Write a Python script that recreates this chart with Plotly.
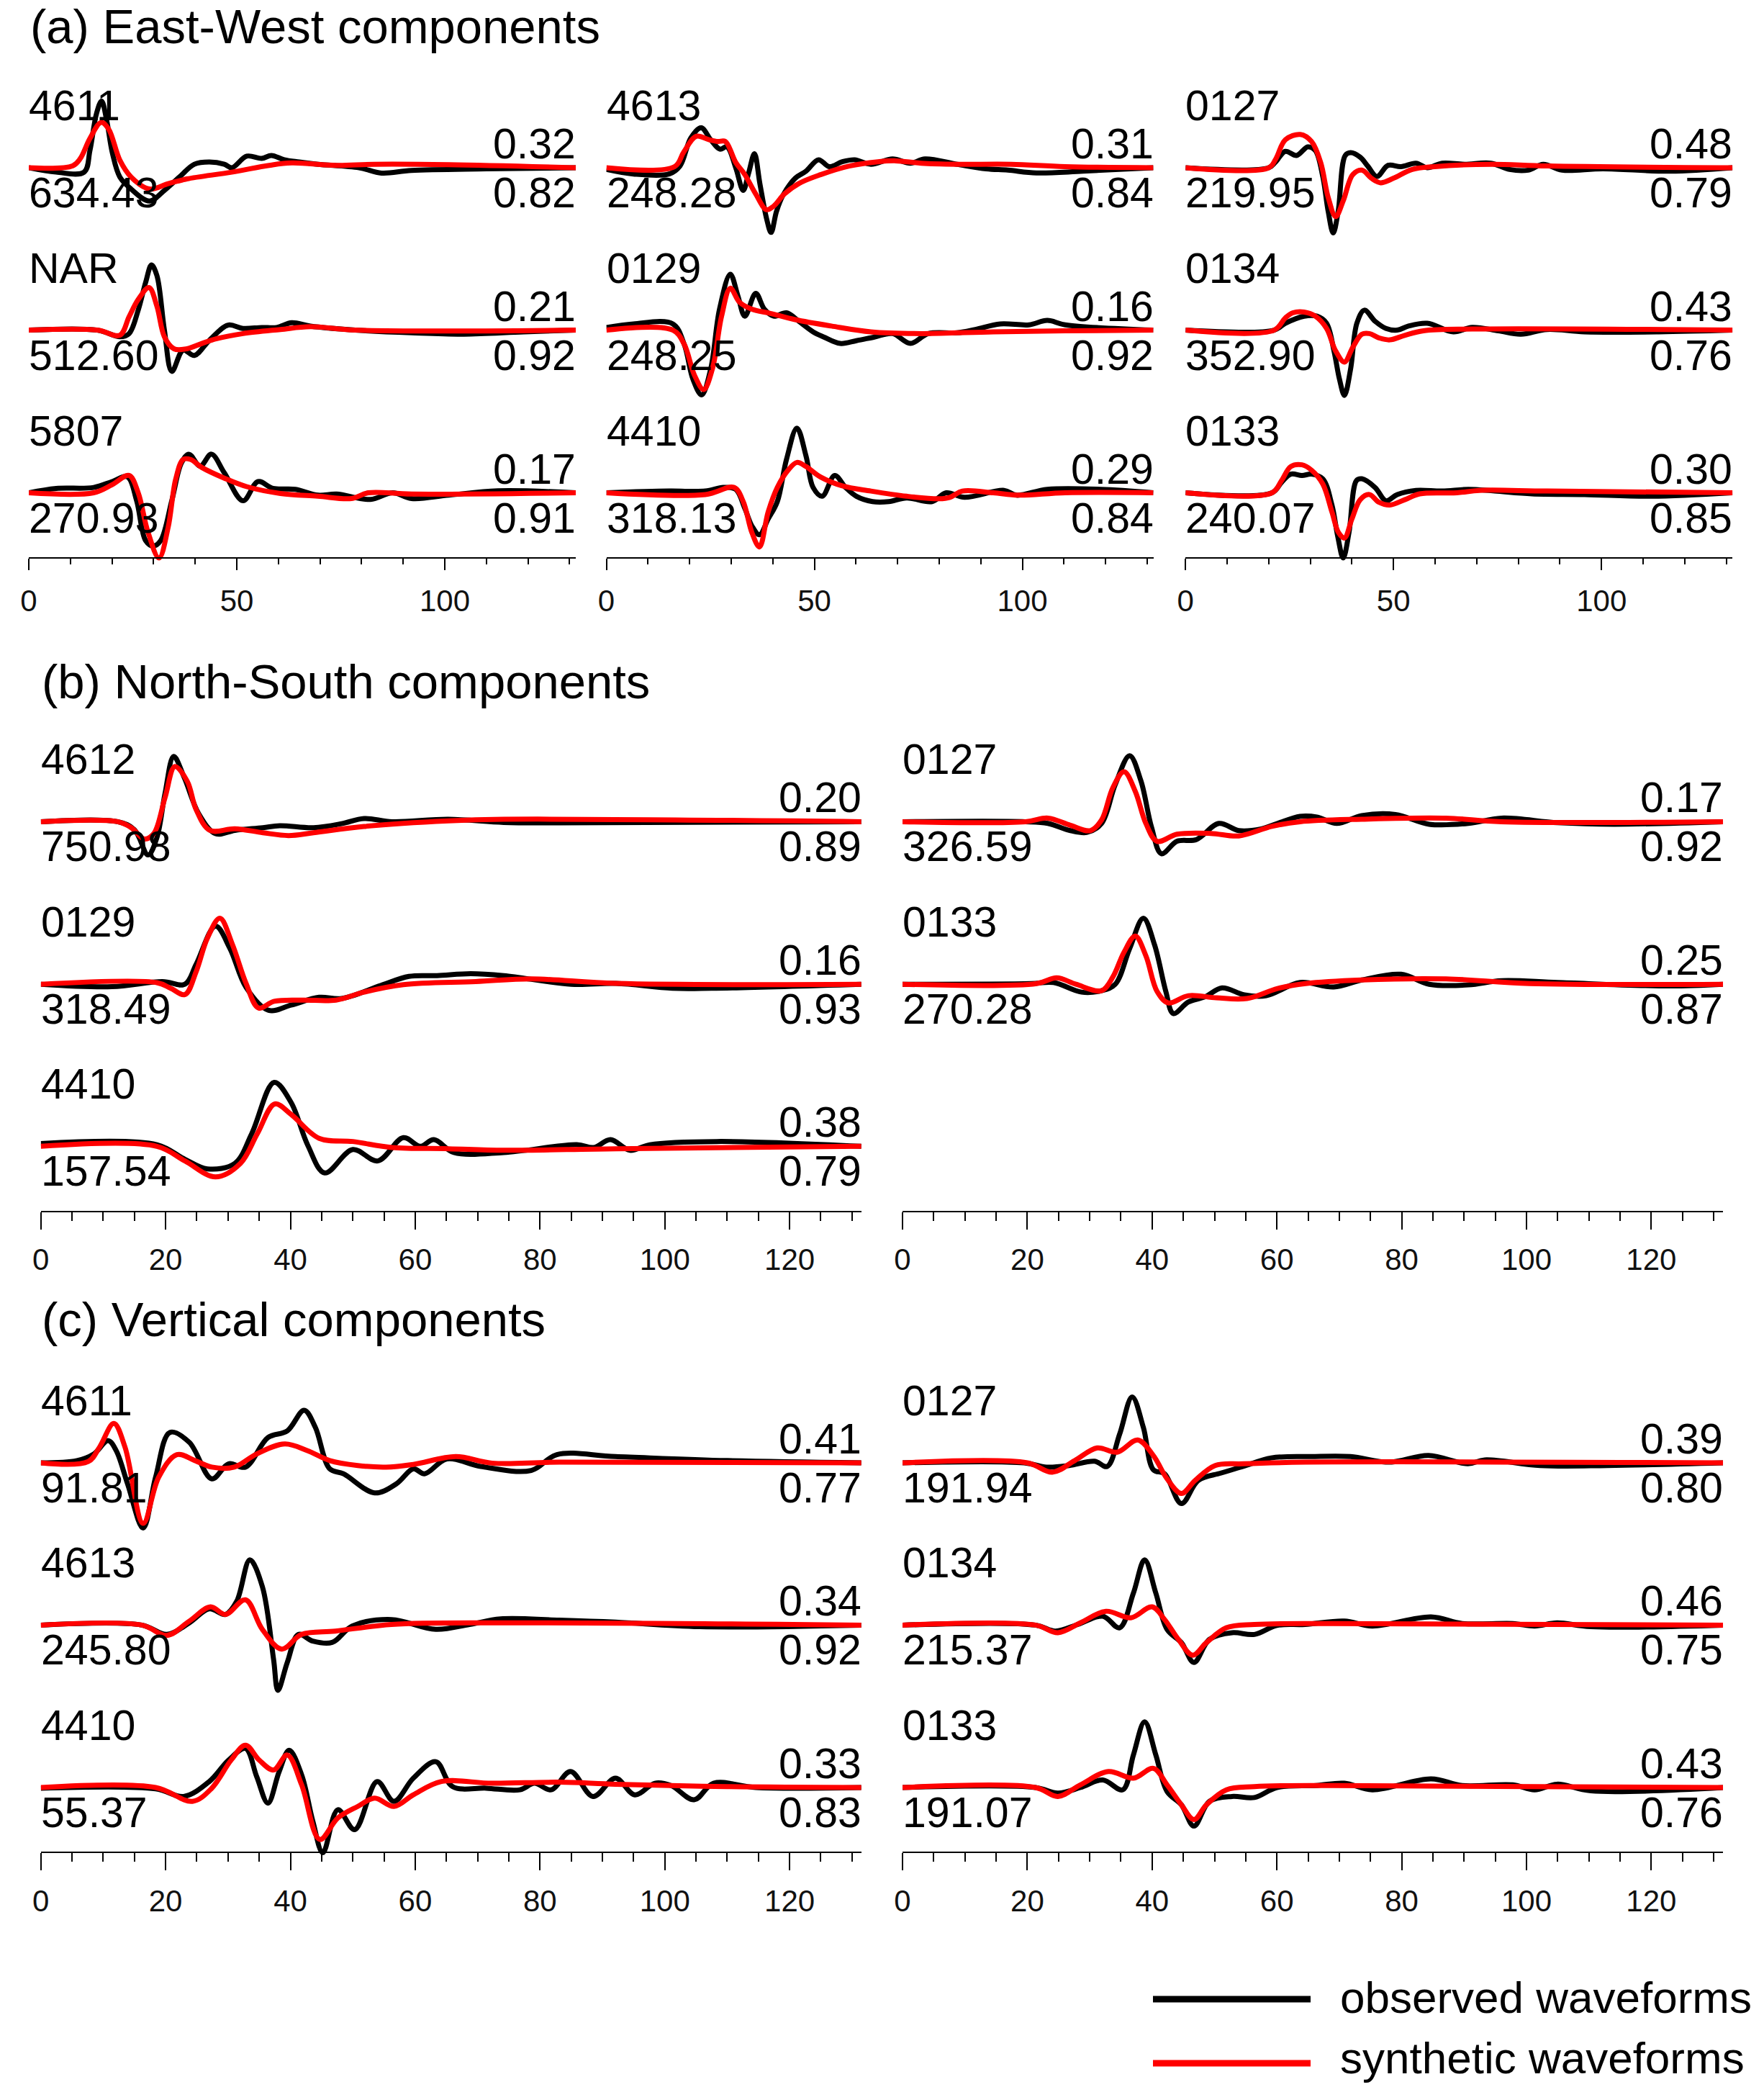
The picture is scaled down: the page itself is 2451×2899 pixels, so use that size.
import plotly.graph_objects as go

W, H = 2451, 2899
AMP = H / 1568.0          # amplitudes were read in units of the reduced (1568 px high) picture
FONT = "Liberation Sans, Arial, Helvetica, sans-serif"
T_MAX = 131.5

# ---------------------------------------------------------------- (a) East-West
EW_STATIONS = ["4611", "NAR", "5807", "4613", "0129", "4410", "0127", "0134", "0133"]
EW_PEAKS = [634.43, 512.60, 270.93, 248.28, 248.25, 318.13, 219.95, 352.90, 240.07]
EW_UPPER = [0.32, 0.21, 0.17, 0.31, 0.16, 0.29, 0.48, 0.43, 0.30]
EW_LOWER = [0.82, 0.92, 0.91, 0.84, 0.92, 0.84, 0.79, 0.76, 0.85]

EW_4611_OBS_T = [0, 6.6, 13.3, 14.7, 16.3, 17.5, 18.7, 20.1, 21.9, 24.6, 29.0, 32.6, 36.2, 39.8, 43.4, 47.0, 48.8, 52.4, 56.0, 58.3, 61.4, 65.0, 69.5, 79.4, 84.8, 92.0, 110.0, 131.5]
EW_4611_OBS_A = [0, -3.3, -3.3, 13, 41, 50, 36, 11, -7, -16, -25, -17, -7, 2.6, 4.3, 2.6, 0, 8.7, 7, 9.2, 6, 4.3, 2.6, 0, -4, -2, -0.8, 0]
EW_4611_SYN_T = [0, 10.6, 12.4, 14.7, 17.4, 19.2, 21.9, 24.6, 29.0, 33.5, 38.0, 48.8, 57.8, 63.2, 74.0, 83.0, 101.0, 131.5]
EW_4611_SYN_A = [0, 1.5, 7, 22, 34, 29, 5.6, -7, -16, -12, -8.4, -3.3, 1.8, 3.6, 1.8, 2.6, 2.3, 0]

EW_NAR_OBS_T = [0, 16.5, 21.9, 24.1, 26.3, 28.1, 29.5, 30.8, 32.6, 34.4, 37.1, 39.8, 43.4, 47.9, 51.5, 56.0, 59.6, 63.2, 67.7, 78.5, 92.0, 104.6, 119.0, 131.5]
EW_NAR_OBS_A = [0, 0, -5, -2.6, 15, 36, 49, 41, 0, -31, -15, -19, -7.7, 3.8, 1.3, 2, 2, 5.6, 3, 0, -2, -3, -1.3, 0]
EW_NAR_SYN_T = [0, 16.5, 21.9, 24.1, 26.3, 28.9, 30.8, 32.6, 34.9, 38.0, 41.6, 45.2, 51.5, 60.5, 67.7, 78.5, 131.5]
EW_NAR_SYN_A = [0, 0, -3.8, 10, 23, 32, 18, -5, -14, -14, -10, -6.4, -2.6, 0.5, 2.6, 0, 0]

EW_5807_OBS_T = [0, 6.6, 15.6, 20.0, 23.7, 25.9, 28.1, 29.9, 31.7, 34.4, 36.7, 38.5, 41.2, 43.9, 47.0, 51.5, 55.1, 58.7, 64.1, 69.5, 74.0, 82.1, 87.5, 92.0, 101.0, 112.7, 131.5]
EW_5807_OBS_A = [0, 3.3, 4, 8.4, 12, -5.6, -36, -40, -36, -5.6, 22.5, 29, 20, 29, 15, -6, 8.4, 3.3, 2.6, -1.8, -1, -5, 0, -4.3, -1.8, 1.5, 0]
EW_5807_SYN_T = [0, 15.6, 20.0, 24.1, 26.3, 28.6, 31.3, 33.5, 35.3, 37.1, 38.9, 41.6, 47.0, 52.4, 60.5, 69.5, 77.6, 81.6, 92.0, 131.5]
EW_5807_SYN_A = [0, 0, 6, 13, 0, -29, -49, -26, 10, 25, 25, 19, 11, 4.6, -0.5, -2.6, -4.3, 0, -1, 0]

EW_4613_OBS_T = [0, 6.5, 15.1, 17.7, 20.3, 22.8, 25.1, 27.3, 29.0, 31.1, 32.9, 34.2, 35.6, 36.9, 38.5, 39.6, 40.9, 42.4, 45.4, 48.0, 51.0, 53.6, 56.7, 59.7, 63.6, 68.8, 73.1, 76.6, 84.3, 91.3, 96.5, 103.4, 114.6, 131.5]
EW_4613_OBS_A = [-1.3, -4.7, -4.7, 1.3, 22.3, 30, 21, 14, 15.7, 0, -17, -4, 10.5, -11.8, -38, -48.6, -32.8, -21, -7.9, -2.6, 6, 0.8, 4.5, 6, 2.6, 6.6, 3.4, 6.6, 2.6, -0.8, -1.8, -3.9, -2.6, 0]
EW_4613_SYN_T = [0, 16.4, 18.6, 21.6, 24.7, 26.8, 28.6, 31.1, 33.3, 35.9, 38.5, 40.2, 42.8, 46.3, 51.5, 58.4, 65.3, 69.6, 75.7, 84.3, 97.3, 110.3, 131.5]
EW_4613_SYN_A = [0, 0.8, 11.8, 23.6, 21, 19.7, 19.7, 4, -5.2, -19.7, -31.5, -28.9, -19.7, -11.8, -5.2, 1.3, 4.5, 5.2, 3.4, 2.6, 2.6, 0.8, 0]

EW_0129_OBS_T = [0, 6.5, 16.0, 18.7, 20.8, 22.9, 25.1, 27.2, 29.8, 31.6, 33.3, 35.9, 38.0, 40.2, 43.3, 46.3, 49.7, 52.3, 56.2, 60.1, 64.4, 68.8, 73.1, 77.4, 84.3, 88.7, 94.7, 101.6, 106.0, 110.3, 131.5]
EW_0129_OBS_A = [2, 4.7, 4.7, -10.5, -36.7, -48.6, -28.9, 15.7, 42, 26, 10.5, 27.6, 15.7, 10.5, 13, 6.6, -1.3, -5.2, -10, -7.9, -5.2, -2.6, -10, -2.6, -2, 0.5, 4.7, 4, 7.3, 4, 0]
EW_0129_SYN_T = [0, 16.0, 18.7, 21.2, 23.4, 25.5, 27.7, 29.8, 32.0, 35.0, 39.4, 45.4, 54.1, 63.6, 75.7, 93.0, 110.3, 131.5]
EW_0129_SYN_A = [0, 0, -10.5, -34, -44.6, -29, 10.5, 31.5, 21, 15.7, 12.6, 7.9, 3.1, -1.3, -2.6, -1.3, -0.5, 0]

EW_4410_OBS_T = [0, 15.1, 23.8, 28.1, 31.1, 33.3, 35.0, 36.8, 38.9, 41.1, 43.3, 45.8, 48.0, 49.7, 51.9, 54.9, 57.5, 60.1, 64.0, 67.9, 72.2, 78.3, 81.7, 86.1, 95.6, 98.6, 106.0, 118.9, 131.5]
EW_4410_OBS_A = [0, 1.3, 1.3, 4, 2.6, -11.8, -25, -31.5, -19.7, -6.6, 25, 48.6, 27.6, 4, -2.6, 13, 4, -2.6, -6.6, -6.6, -3.9, -6.6, 0, -3.4, 1.8, -1.8, 2.6, 2.6, 0]
EW_4410_SYN_T = [0, 23.8, 30.7, 32.9, 35.0, 36.8, 38.9, 41.1, 43.7, 45.8, 48.0, 51.5, 56.7, 63.6, 72.2, 80.0, 82.6, 85.6, 93.0, 99.1, 110.3, 131.5]
EW_4410_SYN_A = [0, -1.3, 4, -6.6, -30, -40.7, -14.4, 4, 17, 22.8, 19.7, 11.8, 5.2, 1.3, -2.6, -4.5, -3.4, 1.3, 0, -1.8, 0, 0]

EW_0127_OBS_T = [0, 20.0, 21.7, 24.0, 26.7, 29.4, 31.2, 33.0, 34.3, 35.5, 36.7, 38.4, 39.7, 42.0, 43.8, 46.0, 48.7, 51.8, 55.4, 58.1, 61.7, 67.1, 73.4, 77.9, 82.4, 86.0, 90.5, 100.4, 116.5, 131.5]
EW_0127_OBS_A = [0, 0, 4.5, 12.3, 9.2, 15.7, 13, -6.6, -32.8, -49, -32.8, 9.2, 11.3, 7.9, 1.3, -6.6, 1.8, 0.8, 3.4, 0, 3.4, 2.6, 3.4, -1.3, -1.8, 2.6, -1.8, -0.8, -2.6, 0]
EW_0127_SYN_T = [0, 20.0, 21.7, 24.0, 27.6, 30.3, 32.5, 34.3, 36.1, 37.9, 40.2, 42.4, 44.7, 46.9, 50.0, 54.5, 59.9, 73.4, 86.9, 131.5]
EW_0127_SYN_A = [0, 0, 6.6, 21, 25, 19.7, 3.9, -22.3, -36.7, -25, -5.2, -1.8, -7.9, -11.3, -7.9, -1.3, 0.8, 2.6, 1.3, 0]

EW_0134_OBS_T = [0, 21.3, 24.0, 28.5, 31.6, 33.9, 35.7, 37.0, 38.2, 39.7, 41.2, 43.0, 45.6, 48.2, 50.9, 53.6, 58.1, 64.4, 68.9, 75.2, 80.6, 86.9, 95.9, 113.8, 131.5]
EW_0134_OBS_A = [0, 0, 5.2, 10.5, 10.5, 5.2, -15.7, -36.7, -49, -28.9, 5.2, 15, 6.6, 1.3, 0, 3.1, 5.2, -1.3, 2.1, -0.5, -3.1, 0.5, -1.3, -1.3, 0]
EW_0134_SYN_T = [0, 21.3, 24.0, 25.8, 28.5, 31.2, 33.9, 36.1, 38.2, 40.2, 42.4, 44.2, 46.5, 49.1, 52.7, 57.2, 68.9, 131.5]
EW_0134_SYN_A = [0, 0, 9.2, 13, 13.6, 10.5, 1.3, -15.7, -24, -13, -3.1, -2.6, -5.8, -7.3, -3.9, -0.5, 0.8, 0]

EW_0133_OBS_T = [0, 20.8, 23.1, 25.3, 28.0, 30.3, 33.0, 35.2, 36.6, 37.9, 39.3, 41.1, 42.4, 45.6, 48.2, 50.9, 55.4, 61.7, 68.0, 74.3, 83.3, 95.9, 112.0, 131.5]
EW_0133_OBS_A = [0, 0, 7.9, 14, 13, 14, 10.5, -9.2, -32.8, -49, -30, 9.2, 10.5, 3.9, -6, -1.3, 1.8, 1.3, 2.6, 1.3, -0.8, -1.3, -2.6, 0]
EW_0133_SYN_T = [0, 20.8, 23.1, 25.3, 28.0, 30.3, 33.0, 35.2, 36.8, 38.2, 40.0, 42.0, 44.2, 46.5, 49.1, 52.7, 56.3, 65.3, 70.7, 86.9, 131.5]
EW_0133_SYN_A = [0, 0, 9.2, 19.7, 21, 17, 6.6, -14.4, -30, -34, -19.7, -5.2, -1.3, -7.1, -9.2, -5.2, -0.8, 0, 1.8, 1.3, 0]

# ---------------------------------------------------------------- (b) North-South
NS_STATIONS = ["4612", "0129", "4410", "0127", "0133"]
NS_PEAKS = [750.98, 318.49, 157.54, 326.59, 270.28]
NS_UPPER = [0.20, 0.16, 0.38, 0.17, 0.25]
NS_LOWER = [0.89, 0.93, 0.79, 0.92, 0.87]

NS_4612_OBS_T = [0, 12.3, 15.0, 17.2, 18.6, 19.9, 21.3, 23.0, 25.3, 28.0, 31.1, 35.6, 38.3, 43.7, 48.2, 51.8, 56.3, 65.3, 74.2, 83.2, 131.5]
NS_4612_OBS_A = [0, 0, -6, -25, -12, 21, 49, 33, 6, -9, -6.5, -4.5, -3, -4.5, -1.5, 2.4, 0, 1.8, -0.6, -0.9, 0]
NS_4612_SYN_T = [0, 12.3, 14.5, 16.6, 18.1, 19.9, 21.5, 23.5, 24.9, 27.1, 31.1, 35.6, 39.7, 43.7, 51.8, 65.3, 74.2, 131.5]
NS_4612_SYN_A = [0, 0, -4.5, -13, -9, 18, 41.5, 30, 9, -6.5, -5.3, -8.3, -10.4, -8.3, -3.6, 0.6, 1.8, 0]

NS_0129_OBS_T = [0, 11.4, 19.5, 23.1, 24.9, 28.0, 30.3, 32.9, 36.5, 40.1, 44.6, 48.2, 54.5, 59.0, 63.5, 68.9, 74.2, 85.0, 92.2, 101.2, 107.5, 131.5]
NS_0129_OBS_A = [0, -1.8, 2, 0, 15, 43.6, 27, -2.4, -19.6, -15.7, -9.8, -10.7, -0.9, 5.9, 6.5, 8, 6.5, 0, 0.6, -3, -3, 0]
NS_0129_SYN_T = [0, 18.6, 20.8, 23.1, 24.9, 26.7, 28.7, 30.7, 32.9, 34.9, 37.4, 41.9, 47.3, 51.8, 58.1, 69.7, 78.7, 92.2, 131.5]
NS_0129_SYN_A = [0, 1.2, -3, -7.7, 9.5, 34.7, 49.6, 30, 0.6, -17.8, -12.8, -11.9, -11.9, -5.9, -0.3, 2, 4, 0.6, 0]

NS_4410_OBS_T = [0, 18.6, 23.1, 26.7, 31.1, 33.8, 37.4, 40.1, 42.8, 45.5, 50.0, 54.0, 58.1, 60.8, 63.0, 66.2, 74.2, 85.9, 88.6, 91.3, 94.4, 97.6, 108.3, 131.5]
NS_4410_OBS_A = [2, 1.2, -9.8, -17, -12.8, 9.5, 48, 33, 0.6, -20, -2.4, -11, 6.5, 0, 5, -4.7, -4.7, 1.2, -0.9, 5, -3, 1.2, 3.6, 0]
NS_4410_SYN_T = [0, 18.6, 23.1, 28.0, 32.0, 34.7, 37.5, 40.1, 44.6, 50.0, 56.3, 65.3, 74.2, 92.2, 131.5]
NS_4410_SYN_A = [0, 0, -11, -23, -12.8, 9.5, 31.8, 24, 6, 3.6, -0.9, -1.8, -3, -1.8, 0]

NS_0127_OBS_T = [0, 19.7, 23.3, 26.9, 29.6, 31.9, 34.1, 36.4, 38.2, 39.9, 41.5, 44.0, 47.1, 50.7, 53.9, 57.5, 60.1, 63.7, 66.4, 69.6, 73.6, 79.0, 84.4, 90.7, 96.0, 105.0, 114.0, 131.5]
NS_0127_OBS_A = [0, 0, -1.3, -6.7, -8, -1.3, 28, 49.6, 30.8, -4, -24, -14.7, -13.4, -1.3, -6.7, -5.4, -1.3, 4, 3.5, -1.3, 4.6, 5.4, -1.9, -1.3, 2.7, -0.8, -1.9, 0]
NS_0127_SYN_T = [0, 19.7, 23.3, 26.9, 30.1, 31.9, 33.7, 35.5, 37.3, 39.0, 40.8, 44.0, 49.4, 53.9, 59.2, 63.7, 73.6, 87.1, 96.0, 131.5]
NS_0127_SYN_A = [0, 0, 2.7, -2.7, -6.7, 1.3, 25.5, 37.5, 22.8, -1.3, -14.7, -9.4, -8.8, -10.7, -3.5, 0, 1.9, 2.7, 0, 0]

NS_0133_OBS_T = [0, 20.6, 24.2, 28.7, 31.9, 34.1, 36.4, 38.6, 40.4, 42.2, 43.4, 45.8, 48.5, 51.2, 54.8, 58.3, 63.7, 69.1, 73.6, 79.9, 84.4, 90.7, 96.0, 105.0, 123.0, 131.5]
NS_0133_OBS_A = [0, 0.5, 1.3, -5.9, -4.8, 0, 26.8, 49.6, 29.5, -5.4, -22, -13.4, -9.4, -2.7, -8, -8.6, 1.3, -2.1, 3.2, 7.5, 0, -0.5, 2.7, 1.3, -1.3, 0]
NS_0133_SYN_T = [0, 21.5, 24.7, 27.8, 31.9, 33.7, 35.5, 37.3, 39.0, 40.8, 42.6, 45.8, 50.3, 55.2, 60.1, 64.6, 73.6, 87.1, 100.5, 131.5]
NS_0133_SYN_A = [0, 0.5, 4.8, 0, -4.8, 5.4, 24.1, 36.2, 21.4, -5.4, -14, -8.6, -10.2, -10.7, -3.2, 0.5, 3.2, 4, 0.5, 0]

# ---------------------------------------------------------------- (c) Vertical
Z_STATIONS = ["4611", "4613", "4410", "0127", "0134", "0133"]
Z_PEAKS = [91.81, 245.80, 55.37, 191.94, 215.37, 191.07]
Z_UPPER = [0.41, 0.34, 0.33, 0.39, 0.46, 0.43]
Z_LOWER = [0.77, 0.92, 0.83, 0.80, 0.75, 0.76]

Z_4611_OBS_T = [0, 5.8, 8.5, 10.8, 12.1, 13.9, 16.4, 18.4, 20.7, 23.8, 27.4, 30.1, 32.8, 36.4, 39.5, 42.2, 44.0, 46.3, 48.5, 53.5, 57.0, 59.7, 61.5, 65.1, 70.5, 78.6, 82.7, 92.1, 110.0, 131.5]
Z_4611_OBS_A = [0, 1.7, 6.7, 16.7, 9, -15.7, -49, -10.7, 22.9, 15.4, -12, -0.7, -3.2, 19, 24, 39.5, 26.6, -4.5, -8.2, -22.6, -15.7, -4.5, -8.2, 3, -2.7, -5.7, 6.2, 4.7, 1.7, 0]
Z_4611_SYN_T = [0, 7.6, 9.4, 11.7, 13.5, 16.4, 18.9, 21.8, 24.7, 27.4, 31.0, 34.6, 39.1, 42.7, 46.3, 50.8, 55.3, 59.7, 66.5, 72.3, 83.1, 131.5]
Z_4611_SYN_A = [0, 1, 11.7, 29.6, 11.7, -45.5, -10.7, 6.2, 1.7, -3.2, -3.2, 6.7, 14.2, 9.2, 1.7, -2, -3.2, -1.2, 4.7, -0.2, 0.5, 0]

Z_4613_OBS_T = [0, 16.2, 20.2, 23.8, 27.0, 29.6, 31.4, 33.5, 35.5, 37.3, 38.0, 39.5, 41.3, 43.6, 46.7, 49.9, 56.2, 63.3, 68.7, 73.7, 83.1, 92.1, 105.6, 131.5]
Z_4613_OBS_A = [0, 0, -7, 1.7, 12.2, 8, 17.9, 49, 29, -25.6, -49, -28, -7, -12, -13, -0.7, 4.2, -3.2, 0.5, 4.7, 3.7, 2.2, -1.2, 0]
Z_4613_SYN_T = [0, 16.2, 20.2, 23.8, 27.2, 29.6, 32.8, 35.5, 38.6, 41.8, 47.2, 56.2, 74.1, 131.5]
Z_4613_SYN_A = [0, 0, -7.7, 3, 13.7, 8, 19, -3.2, -18, -7, -4.5, 0.5, 1.7, 0]

Z_4410_OBS_T = [0, 18.4, 22.9, 27.0, 30.1, 32.8, 34.6, 36.4, 38.2, 39.8, 41.8, 43.6, 45.2, 47.6, 50.3, 53.9, 56.6, 59.7, 63.3, 66.0, 71.4, 76.8, 79.1, 81.8, 84.9, 88.5, 92.1, 95.2, 98.4, 101.0, 104.7, 107.8, 114.6, 131.5]
Z_4410_OBS_A = [-0.5, -1, -6.7, 4.5, 20.6, 29.4, 8.2, -11.7, 12, 28, 9.5, -25.4, -49, -16.7, -31.6, 4.5, -10.4, 7, 19.4, 0.7, -0.5, -1.7, 3.2, -1.7, 12, -6.7, 7, -5.5, 3.2, 1.5, -9.2, 3.2, 0, 0]
Z_4410_SYN_T = [0, 18.4, 24.3, 27.4, 30.5, 32.8, 35.0, 37.3, 39.5, 41.8, 44.7, 47.6, 50.8, 53.5, 56.6, 59.7, 64.2, 72.3, 83.1, 92.1, 110.0, 131.5]
Z_4410_SYN_A = [0, 0, -10.4, -0.5, 20.6, 31.8, 20.6, 13.2, 24.4, 2, -39, -22.9, -14.2, -8, -14.2, -5.5, 4.5, 3.2, 4, 2.5, 0.7, 0]

Z_0127_OBS_T = [0, 19.5, 23.1, 26.7, 30.8, 32.8, 34.8, 36.8, 38.6, 40.2, 42.0, 44.7, 47.4, 51.0, 54.6, 59.1, 65.5, 71.8, 78.0, 84.3, 90.6, 93.3, 102.2, 113.0, 131.5]
Z_0127_OBS_A = [0, 0, -3.2, -2, 1.2, -2.7, 21.6, 49.5, 26.6, -5.2, -8.2, -30.6, -13.2, -7.7, -2.7, 3.7, 4.7, 4.7, 0.5, 5.5, -0.7, 2.2, -2, -2, 0]
Z_0127_SYN_T = [0, 20.0, 24.0, 27.6, 31.2, 34.4, 37.7, 40.2, 42.4, 44.7, 46.9, 50.1, 54.6, 64.5, 131.5]
Z_0127_SYN_A = [0, 0, -7, 1.7, 11.2, 8, 17.2, 5.5, -12, -23, -13.2, -2, -0.7, 0.5, 0]

Z_0134_OBS_T = [0, 21.3, 24.5, 28.1, 32.1, 34.8, 37.0, 38.8, 40.6, 42.4, 44.7, 46.7, 49.2, 52.8, 56.4, 60.0, 64.5, 70.8, 75.3, 84.7, 89.7, 97.8, 101.3, 104.9, 110.3, 131.5]
Z_0134_OBS_A = [0, 0, -4.5, 0.5, 6.7, -2, 24, 49, 24, -3.2, -13.2, -28, -10.7, -5.7, -7, -0.2, 0.5, 3, -0.7, 6.2, 1.2, 1.2, -0.7, 1.7, -1.2, 0]
Z_0134_SYN_T = [0, 21.3, 24.9, 28.5, 32.6, 36.6, 40.0, 42.0, 44.2, 46.5, 48.7, 51.9, 56.4, 69.0, 131.5]
Z_0134_SYN_A = [0, 0, -5.7, 1.7, 10.4, 5.5, 13.7, 4.2, -10.7, -22.6, -13.2, -2, 0.5, 1.2, 0]

Z_0133_OBS_T = [0, 21.3, 24.9, 28.5, 32.1, 35.3, 37.0, 38.8, 40.6, 42.4, 44.7, 46.7, 49.2, 52.8, 56.4, 60.0, 66.3, 70.8, 75.3, 84.7, 89.7, 97.8, 101.3, 104.9, 110.3, 131.5]
Z_0133_OBS_A = [0, 0, -4.2, 0, 5.7, -1.7, 24.4, 49.3, 24.4, -3, -13, -29, -10.4, -6.7, -7.5, 0, 1.5, 3.2, -1.7, 6.5, 1.5, 2, -1.7, 2.5, -2.5, 0]
Z_0133_SYN_T = [0, 21.3, 24.9, 28.5, 33.0, 37.0, 40.2, 42.4, 44.7, 46.7, 48.7, 51.9, 56.4, 69.0, 131.5]
Z_0133_SYN_A = [0, 0, -6.7, 2, 12, 7, 14.4, 2, -13, -24.1, -13, -1.7, 0.7, 1.5, 0]

LEGEND_LABELS = ["observed waveforms", "synthetic waveforms"]
LEGEND_COLORS = ["black", "#ff0000"]

# ---------------------------------------------------------------- assemble
EW_OBS = [(EW_4611_OBS_T, EW_4611_OBS_A), (EW_NAR_OBS_T, EW_NAR_OBS_A), (EW_5807_OBS_T, EW_5807_OBS_A),
          (EW_4613_OBS_T, EW_4613_OBS_A), (EW_0129_OBS_T, EW_0129_OBS_A), (EW_4410_OBS_T, EW_4410_OBS_A),
          (EW_0127_OBS_T, EW_0127_OBS_A), (EW_0134_OBS_T, EW_0134_OBS_A), (EW_0133_OBS_T, EW_0133_OBS_A)]
EW_SYN = [(EW_4611_SYN_T, EW_4611_SYN_A), (EW_NAR_SYN_T, EW_NAR_SYN_A), (EW_5807_SYN_T, EW_5807_SYN_A),
          (EW_4613_SYN_T, EW_4613_SYN_A), (EW_0129_SYN_T, EW_0129_SYN_A), (EW_4410_SYN_T, EW_4410_SYN_A),
          (EW_0127_SYN_T, EW_0127_SYN_A), (EW_0134_SYN_T, EW_0134_SYN_A), (EW_0133_SYN_T, EW_0133_SYN_A)]
NS_OBS = [(NS_4612_OBS_T, NS_4612_OBS_A), (NS_0129_OBS_T, NS_0129_OBS_A), (NS_4410_OBS_T, NS_4410_OBS_A),
          (NS_0127_OBS_T, NS_0127_OBS_A), (NS_0133_OBS_T, NS_0133_OBS_A)]
NS_SYN = [(NS_4612_SYN_T, NS_4612_SYN_A), (NS_0129_SYN_T, NS_0129_SYN_A), (NS_4410_SYN_T, NS_4410_SYN_A),
          (NS_0127_SYN_T, NS_0127_SYN_A), (NS_0133_SYN_T, NS_0133_SYN_A)]
Z_OBS = [(Z_4611_OBS_T, Z_4611_OBS_A), (Z_4613_OBS_T, Z_4613_OBS_A), (Z_4410_OBS_T, Z_4410_OBS_A),
         (Z_0127_OBS_T, Z_0127_OBS_A), (Z_0134_OBS_T, Z_0134_OBS_A), (Z_0133_OBS_T, Z_0133_OBS_A)]
Z_SYN = [(Z_4611_SYN_T, Z_4611_SYN_A), (Z_4613_SYN_T, Z_4613_SYN_A), (Z_4410_SYN_T, Z_4410_SYN_A),
         (Z_0127_SYN_T, Z_0127_SYN_A), (Z_0134_SYN_T, Z_0134_SYN_A), (Z_0133_SYN_T, Z_0133_SYN_A)]

PANELS = [
    dict(title="(a) East-West components", title_x=42, title_y=37,
         col_x0=[40.0, 842.5, 1647.2], px_per_s=5.78, col_rows=[3, 3, 3],
         baselines=[233.0, 458.6, 684.5], axis_y=775.0,
         dtick=50, minor=10, ticklen=16, minorlen=8, standoff=7,
         data=(EW_STATIONS, EW_PEAKS, EW_UPPER, EW_LOWER, EW_OBS, EW_SYN)),
    dict(title="(b) North-South components", title_x=58, title_y=946,
         col_x0=[56.7, 1254.0], px_per_s=8.67, col_rows=[3, 2],
         baselines=[1141.4, 1367.2, 1592.3], axis_y=1682.7,
         dtick=20, minor=5, ticklen=24, minorlen=12, standoff=6,
         data=(NS_STATIONS, NS_PEAKS, NS_UPPER, NS_LOWER, NS_OBS, NS_SYN)),
    dict(title="(c) Vertical components", title_x=58, title_y=1832,
         col_x0=[56.7, 1254.0], px_per_s=8.67, col_rows=[3, 3],
         baselines=[2032.0, 2257.4, 2483.0], axis_y=2572.7,
         dtick=20, minor=5, ticklen=24, minorlen=12, standoff=7,
         data=(Z_STATIONS, Z_PEAKS, Z_UPPER, Z_LOWER, Z_OBS, Z_SYN)),
]

LABEL_SIZE = 59
TITLE_SIZE = 67
TICK_SIZE = 42
LINE_W = 7

fig = go.Figure()
axes = {}
ann = []
n = 0
for p in PANELS:
    names, peaks, upper, lower, obs, syn = p["data"]
    ann.append(dict(text=p["title"], xref="paper", yref="paper", x=p["title_x"] / W, y=1 - p["title_y"] / H,
                    xanchor="left", yanchor="middle", showarrow=False, borderpad=0, borderwidth=0,
                    font=dict(family=FONT, size=TITLE_SIZE, color="black")))
    k = 0
    for c, nrows in enumerate(p["col_rows"]):
        n += 1
        sx = "" if n == 1 else str(n)
        xref, yref = "x" + sx, "y" + sx
        x0 = p["col_x0"][c]
        x1 = x0 + T_MAX * p["px_per_s"]
        top = p["baselines"][0] - 140
        bot = p["axis_y"] + 40
        axes["xaxis" + sx] = dict(
            domain=[x0 / W, x1 / W], range=[0, T_MAX], anchor="free", position=1 - p["axis_y"] / H,
            showline=True, linecolor="black", linewidth=2, showgrid=False, zeroline=False,
            ticks="outside", ticklen=p["ticklen"], tickwidth=2, tickcolor="black",
            tick0=0, dtick=p["dtick"], ticklabelstandoff=p["standoff"], automargin=False,
            minor=dict(ticks="outside", ticklen=p["minorlen"], tickwidth=2, tickcolor="black",
                       tick0=0, dtick=p["minor"], showgrid=False),
            tickfont=dict(family=FONT, size=TICK_SIZE, color="#111111"), fixedrange=True)
        axes["yaxis" + sx] = dict(domain=[1 - bot / H, 1 - top / H], range=[-bot, -top],
                                  visible=False, fixedrange=True, anchor=xref, automargin=False)
        for r in range(nrows):
            base = p["baselines"][r]
            for (t, a), col in ((obs[k], "black"), (syn[k], "#ff0000")):
                fig.add_trace(go.Scatter(x=t, y=[-base + v * AMP for v in a], xaxis=xref, yaxis=yref,
                                         mode="lines", line=dict(color=col, width=LINE_W, shape="spline"),
                                         hoverinfo="skip", showlegend=False))
            common = dict(xref=xref, yref=yref, showarrow=False, yanchor="middle", borderpad=0, borderwidth=0,
                          font=dict(family=FONT, size=LABEL_SIZE, color="black"))
            ann.append(dict(text=names[k], x=0, y=-(base - 86), xanchor="left", **common))
            ann.append(dict(text=f"{peaks[k]:.2f}", x=0, y=-(base + 35), xanchor="left", **common))
            ann.append(dict(text=f"{upper[k]:.2f}", x=T_MAX, y=-(base - 33), xanchor="right", **common))
            ann.append(dict(text=f"{lower[k]:.2f}", x=T_MAX, y=-(base + 35), xanchor="right", **common))
            k += 1

# legend (drawn as sample lines + labels)
shapes = []
for i, (lab, col) in enumerate(zip(LEGEND_LABELS, LEGEND_COLORS)):
    ly = [2777, 2866][i]
    ty = [2774, 2858][i]
    shapes.append(dict(type="line", xref="paper", yref="paper", x0=1602 / W, x1=1821 / W,
                       y0=1 - ly / H, y1=1 - ly / H, line=dict(color=col, width=9)))
    ann.append(dict(text=lab, xref="paper", yref="paper", x=1862 / W, y=1 - ty / H, xanchor="left",
                    yanchor="middle", showarrow=False, borderpad=0, borderwidth=0,
                    font=dict(family=FONT, size=62, color="black")))

fig.update_layout(width=W, height=H, margin=dict(l=0, r=0, t=0, b=0, pad=0, autoexpand=False),
                  paper_bgcolor="white", plot_bgcolor="rgba(0,0,0,0)", showlegend=False,
                  annotations=ann, shapes=shapes, **axes)
fig.write_html("out.html", config={"displayModeBar": False},
               post_script="document.body.style.margin='0px';document.body.style.overflow='hidden';")
